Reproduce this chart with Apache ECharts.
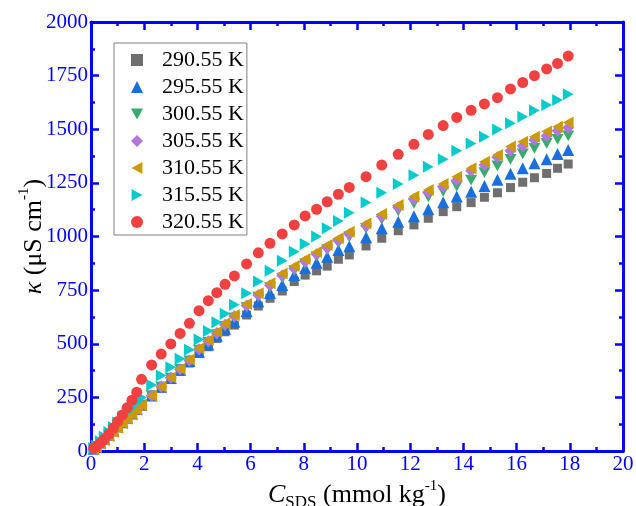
<!DOCTYPE html>
<html>
<head>
<meta charset="utf-8">
<script src="https://cdn.jsdelivr.net/npm/echarts@6/dist/echarts.min.js"></script>
<style>
    html, body { margin: 0; padding: 0; background: #fff; }
    #chart { width: 636px; height: 506px; }
</style>
</head>
<body>
<div id="chart"></div>
<script>
// concentration of SDS (mmol/kg), shared by all temperatures
var conc = [0.1, 0.2, 0.35, 0.5, 0.67, 0.84, 1.0, 1.18, 1.36, 1.54, 1.72, 1.9, 2.28, 2.64, 3.0, 3.35,
    3.7, 4.06, 4.41, 4.73, 5.04, 5.39, 5.85, 6.29, 6.73, 7.19, 7.64, 8.05, 8.48, 8.88, 9.3, 9.71,
    10.34, 10.93, 11.55, 12.14, 12.68, 13.24, 13.75, 14.29, 14.79, 15.28, 15.77, 16.23, 16.67, 17.13, 17.54, 17.94];

var temps = ['290.55 K', '295.55 K', '300.55 K', '305.55 K', '310.55 K', '315.55 K', '320.55 K'];

// conductivity (uS/cm)
var k290 = [11, 22, 39, 56, 75, 94, 112, 132, 152, 172, 192, 212, 254, 293, 333, 371,
    410, 455, 486, 525, 556, 587, 634, 676, 712, 746, 790, 820, 840, 862, 894, 914,
    956, 992, 1027, 1054, 1085, 1116, 1139, 1158, 1183, 1204, 1228, 1253, 1274, 1294, 1318, 1338];
var k295 = [11, 22, 40, 57, 76, 96, 114, 134, 155, 175, 196, 216, 259, 299, 340, 379,
    419, 463, 497, 537, 570, 603, 652, 697, 737, 774, 820, 853, 878, 906, 937, 955,
    996, 1038, 1069, 1094, 1127, 1160, 1186, 1209, 1235, 1265, 1292, 1318, 1342, 1360, 1385, 1403];
var k300 = [11, 22, 39, 56, 75, 94, 113, 133, 153, 174, 194, 215, 258, 299, 340, 380,
    420, 470, 506, 543, 581, 620, 668, 717, 762, 806, 840, 872, 905, 937, 968, 998,
    1038, 1080, 1120, 1155, 1185, 1210, 1235, 1263, 1298, 1329, 1360, 1385, 1411, 1434, 1453, 1469];
var k305 = [11, 22, 39, 56, 75, 94, 112, 133, 153, 174, 194, 215, 258, 299, 341, 381,
    422, 474, 512, 550, 589, 628, 678, 727, 773, 818, 851, 884, 917, 948, 980, 1010,
    1050, 1093, 1135, 1174, 1205, 1232, 1262, 1307, 1333, 1369, 1400, 1422, 1450, 1469, 1493, 1507];
var k310 = [8, 18, 34, 50, 70, 89, 108, 129, 150, 171, 192, 213, 257, 300, 343, 384,
    426, 479, 517, 556, 595, 634, 685, 735, 782, 828, 862, 895, 928, 960, 992, 1022,
    1061, 1105, 1147, 1186, 1217, 1245, 1278, 1318, 1349, 1380, 1419, 1442, 1465, 1489, 1512, 1531];
var k315 = [13, 26, 46, 66, 89, 112, 133, 157, 180, 203, 226, 250, 308, 352, 390, 430,
    472, 520, 560, 600, 640, 682, 735, 790, 840, 887, 929, 965, 1000, 1038, 1072, 1111,
    1159, 1204, 1245, 1285, 1325, 1360, 1400, 1434, 1465, 1499, 1528, 1558, 1587, 1613, 1636, 1663];
var k320 = [13, 22, 37, 55, 78, 106, 137, 168, 202, 237, 274, 334, 401, 452, 499, 548,
    595, 654, 701, 738, 777, 816, 872, 924, 968, 1012, 1054, 1096, 1127, 1162, 1197, 1229,
    1279, 1333, 1383, 1430, 1476, 1517, 1555, 1588, 1618, 1647, 1688, 1718, 1750, 1781, 1807, 1841];

var values = [k290, k295, k300, k305, k310, k315, k320];
var colors = ['#6f6f6f', '#1a6fdf', '#37ad6b', '#b177de', '#cc9900', '#00cbcc', '#f14040'];
// down / left / right triangles as paths so they don't depend on rotation
var symbols = ['rect', 'triangle', 'path://M0,0L10,0L5,9Z', 'diamond',
    'path://M9,0L9,10L0,5Z', 'path://M0,0L0,10L9,5Z', 'circle'];
var sizes = [9, 12, 12, 12, 12, 12, 11];

var serif = 'Liberation Serif';
var blue = '#0000ff';

function pairs(ys) {
    var out = [];
    for (var i = 0; i < conc.length; i++) {
        out.push([conc[i], ys[i]]);
    }
    return out;
}

var series = [];
for (var s = 0; s < temps.length; s++) {
    series.push({
        name: temps[s],
        type: 'scatter',
        xAxisIndex: 0,
        yAxisIndex: 0,
        symbol: symbols[s],
        symbolSize: sizes[s],
        symbolKeepAspect: true,
        itemStyle: {color: colors[s], opacity: 1},
        data: pairs(values[s])
    });
}

function boxAxis(pos, min, max, interval, showLabel) {
    return {
        type: 'value',
        position: pos,
        min: min,
        max: max,
        interval: interval,
        axisLine: {show: true, onZero: false, lineStyle: {color: blue, width: 3}},
        axisTick: {show: true, inside: true, length: 8, lineStyle: {color: blue, width: 2.5}},
        minorTick: {show: true, splitNumber: 2, length: 4, lineStyle: {color: blue, width: 2.5}},
        splitLine: {show: false},
        axisLabel: {
            show: showLabel,
            color: blue,
            fontFamily: serif,
            fontSize: 21,
            margin: 3,
            formatter: function (v) { return String(v); }
        }
    };
}

var xBottom = boxAxis('bottom', 0, 20, 2, true);
xBottom.name = '{i|C}{sub|SDS}{n| (mmol kg}{sup|-1}{n|)}';
xBottom.nameLocation = 'middle';
xBottom.nameGap = 28;
xBottom.nameMoveOverlap = false;
xBottom.nameTextStyle = {
    color: '#000',
    fontFamily: serif,
    rich: {
        i: {fontFamily: serif, fontSize: 26, fontStyle: 'italic', color: '#000', lineHeight: 32},
        n: {fontFamily: serif, fontSize: 26, color: '#000', lineHeight: 32},
        sub: {fontFamily: serif, fontSize: 17, color: '#000', lineHeight: 32, verticalAlign: 'bottom'},
        sup: {fontFamily: serif, fontSize: 15, color: '#000', lineHeight: 32, verticalAlign: 'top'}
    }
};

var yLeft = boxAxis('left', 0, 2000, 250, true);
yLeft.name = '{i|κ}{n| (μS cm}{sup|-1}{n|)}';
yLeft.nameLocation = 'middle';
yLeft.nameGap = 40;
yLeft.nameMoveOverlap = false;
yLeft.nameTextStyle = {
    color: '#000',
    fontFamily: serif,
    rich: {
        i: {fontFamily: serif, fontSize: 26, fontStyle: 'italic', color: '#000', lineHeight: 34},
        n: {fontFamily: serif, fontSize: 26, color: '#000', lineHeight: 34},
        sup: {fontFamily: serif, fontSize: 15, color: '#000', lineHeight: 34, verticalAlign: 'top'}
    }
};

var option = {
    backgroundColor: '#fff',
    animation: false,
    grid: {left: 91, right: 13, top: 22, bottom: 55, containLabel: false, outerBoundsMode: 'none'},
    legend: {
        orient: 'vertical',
        left: 114,
        top: 43,
        padding: [6, 3, 2, 17],
        itemGap: 5,
        itemWidth: 12,
        itemHeight: 12,
        backgroundColor: '#fff',
        borderColor: '#808080',
        borderWidth: 1,
        borderRadius: 0,
        textStyle: {color: '#000', fontFamily: serif, fontSize: 22, lineHeight: 22, padding: [0, 0, 0, 14]},
        data: temps
    },
    xAxis: [xBottom, boxAxis('top', 0, 20, 2, false)],
    yAxis: [yLeft, boxAxis('right', 0, 2000, 250, false)],
    series: series
};

var myChart = echarts.init(document.getElementById('chart'));
myChart.setOption(option);
</script>
</body>
</html>
